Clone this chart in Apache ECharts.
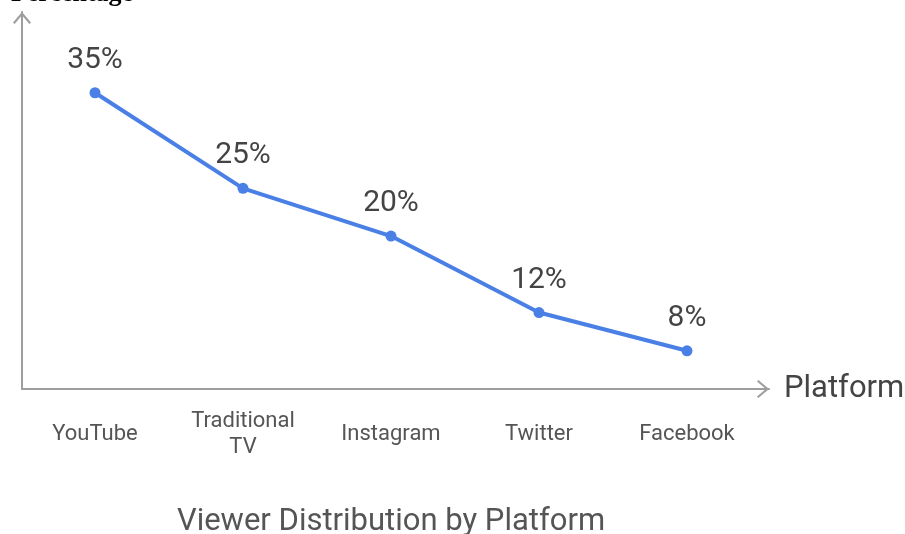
<!DOCTYPE html>
<html>
<head>
<meta charset="utf-8">
<script src="https://cdn.jsdelivr.net/npm/echarts@6/dist/echarts.min.js"></script>
<style>
html,body{margin:0;padding:0;background:#fff;}
#chart{width:905px;height:534px;}
</style>
</head>
<body>
<div id="chart"></div>
<script>
const categories = ['YouTube', 'Traditional\nTV', 'Instagram', 'Twitter', 'Facebook'];
const values = [35, 25, 20, 12, 8];
const chartTitle = 'Viewer Distribution by Platform';
const xAxisName = 'Platform';
const yAxisName = 'Percentage';

const axisColor = '#9e9e9e';
const lineColor = '#4a80e6';
const chevron = 'path://M9,0 L18,10.6 L16.4,12 L9,3.2 L1.6,12 L0,10.6 Z';

const chart = echarts.init(document.getElementById('chart'), null, {renderer: 'canvas'});
chart.setOption({
  animation: false,
  backgroundColor: '#ffffff',
  grid: [
    {left: 21, right: 144, top: 12, bottom: 145, containLabel: false, outerBoundsMode: 'none'},
    {left: 22, right: 136, top: 12, bottom: 145, containLabel: false, outerBoundsMode: 'none'}
  ],
  xAxis: [
    {
      type: 'category', gridIndex: 0, data: categories, boundaryGap: true,
      axisLine: {show: false}, axisTick: {show: false}, splitLine: {show: false},
      axisLabel: {
        color: '#555', fontSize: 22, fontFamily: 'Roboto', lineHeight: 26,
        margin: 45, verticalAlign: 'middle', interval: 0
      },
      name: chartTitle, nameLocation: 'middle', nameGap: 118,
      nameTextStyle: {color: '#555', fontSize: 31, fontFamily: 'Roboto'}
    },
    {
      type: 'value', gridIndex: 1, min: 0, max: 1,
      axisLine: {show: true, lineStyle: {color: axisColor, width: 2},
        symbol: ['none', chevron], symbolSize: [18, 12], symbolOffset: [0, -6]},
      axisTick: {show: false}, axisLabel: {show: false}, splitLine: {show: false},
      name: xAxisName, nameLocation: 'end', nameGap: 15,
      nameTextStyle: {color: '#444', fontSize: 31, fontFamily: 'Roboto', verticalAlign: 'middle'}
    }
  ],
  yAxis: [
    {
      type: 'value', gridIndex: 0, min: 4, max: 43.45,
      axisLine: {show: false}, axisTick: {show: false}, axisLabel: {show: false}, splitLine: {show: false}
    },
    {
      type: 'value', gridIndex: 1, min: 0, max: 1,
      axisLine: {show: true, lineStyle: {color: axisColor, width: 2},
        symbol: ['none', chevron], symbolSize: [23, 12], symbolOffset: [0, -6]},
      axisTick: {show: false}, axisLabel: {show: false}, splitLine: {show: false},
      name: yAxisName, nameLocation: 'end', nameGap: 5,
      nameTextStyle: {color: '#000', fontSize: 26, fontFamily: 'Liberation Serif', fontWeight: 'bold',
        align: 'center', padding: [0, 0, 0, 100]}
    }
  ],
  series: [{
    type: 'line', xAxisIndex: 0, yAxisIndex: 0,
    data: values,
    symbol: 'circle', symbolSize: 11,
    lineStyle: {color: lineColor, width: 4},
    itemStyle: {color: lineColor},
    label: {
      show: true, position: 'top', distance: 12,
      formatter: p => p.value + '%',
      color: '#444', fontSize: 30, fontFamily: 'Roboto'
    }
  }]
});
</script>
</body>
</html>
